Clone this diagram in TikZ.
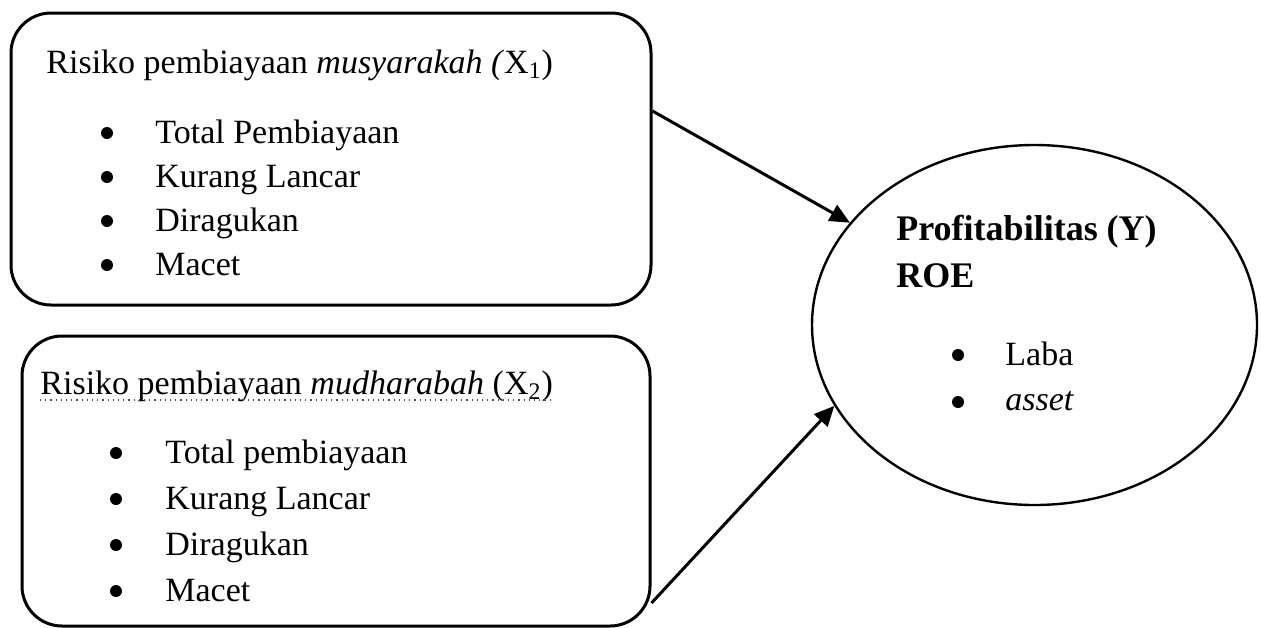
\documentclass[tikz,border=0pt]{standalone}
\usepackage{fontspec}
\setmainfont{Liberation Serif}
\usetikzlibrary{arrows.meta,shapes.geometric}
\begin{document}
\begin{tikzpicture}[x=0.5pt,y=-0.5pt,
  every node/.style={font=\fontsize{17}{20}\selectfont},
  box/.style={draw,line width=1.5pt,rounded corners=20pt,inner sep=0pt},
  ellbox/.style={draw,ellipse,line width=1.2pt,inner sep=0pt,minimum width=222.5pt,minimum height=180pt},
  txt/.style={anchor=base west,inner sep=0pt},
  btxt/.style={txt,font=\fontsize{18}{21}\selectfont\bfseries},
  bul/.style={circle,fill,inner sep=0pt,minimum size=6pt},
  arr/.style={line width=1.5pt,-{Triangle[length=10pt,width=9pt]}},
  uline/.style={dotted,line width=0.6pt,black!70}]
\useasboundingbox (0,0) rectangle (1261,627);
% boxes
\node[box,minimum width=320pt,minimum height=146pt] (box1) at (331,159) {};
\node[box,minimum width=314pt,minimum height=145pt] (box2) at (336,481) {};
\node[ellbox] (ell) at (1034.5,325) {};
% box 1 text
\node[txt] (t1) at (46,73) {Risiko pembiayaan \textit{musyarakah (}X\textsubscript{1})};
\node[bul] (b11) at (107,133) {};
\node[txt] (i11) at (155,143) {Total Pembiayaan};
\node[bul] (b12) at (107,177) {};
\node[txt] (i12) at (155,187) {Kurang Lancar};
\node[bul] (b13) at (107,221) {};
\node[txt] (i13) at (155,231) {Diragukan};
\node[bul] (b14) at (107,265) {};
\node[txt] (i14) at (155,275) {Macet};
% box 2 text
\node[txt] (t2) at (40,394) {Risiko pembiayaan \textit{mudharabah} (X\textsubscript{2})};
\draw[uline] ([yshift=-3pt]t2.base west) -- ([yshift=-3pt]t2.base east);
\node[bul] (b21) at (116,453) {};
\node[txt] (i21) at (165,463) {Total pembiayaan};
\node[bul] (b22) at (116,499) {};
\node[txt] (i22) at (165,509) {Kurang Lancar};
\node[bul] (b23) at (116,545) {};
\node[txt] (i23) at (165,555) {Diragukan};
\node[bul] (b24) at (116,591) {};
\node[txt] (i24) at (165,601) {Macet};
% ellipse text
\node[btxt] (y1) at (896,240) {Profitabilitas (Y)};
\node[btxt] (y2) at (896,287) {ROE};
\node[bul] (b31) at (958,355) {};
\node[txt] (i31) at (1005,365) {Laba};
\node[bul] (b32) at (958,402) {};
\node[txt] (i32) at (1005,410) {\textit{asset}};
% arrows
\draw[arr] ([yshift=24pt]box1.east) -- (ell.151.5);
\draw[arr] ([yshift=-61pt]box2.east) -- (ell.202.8);
\end{tikzpicture}
\end{document}
